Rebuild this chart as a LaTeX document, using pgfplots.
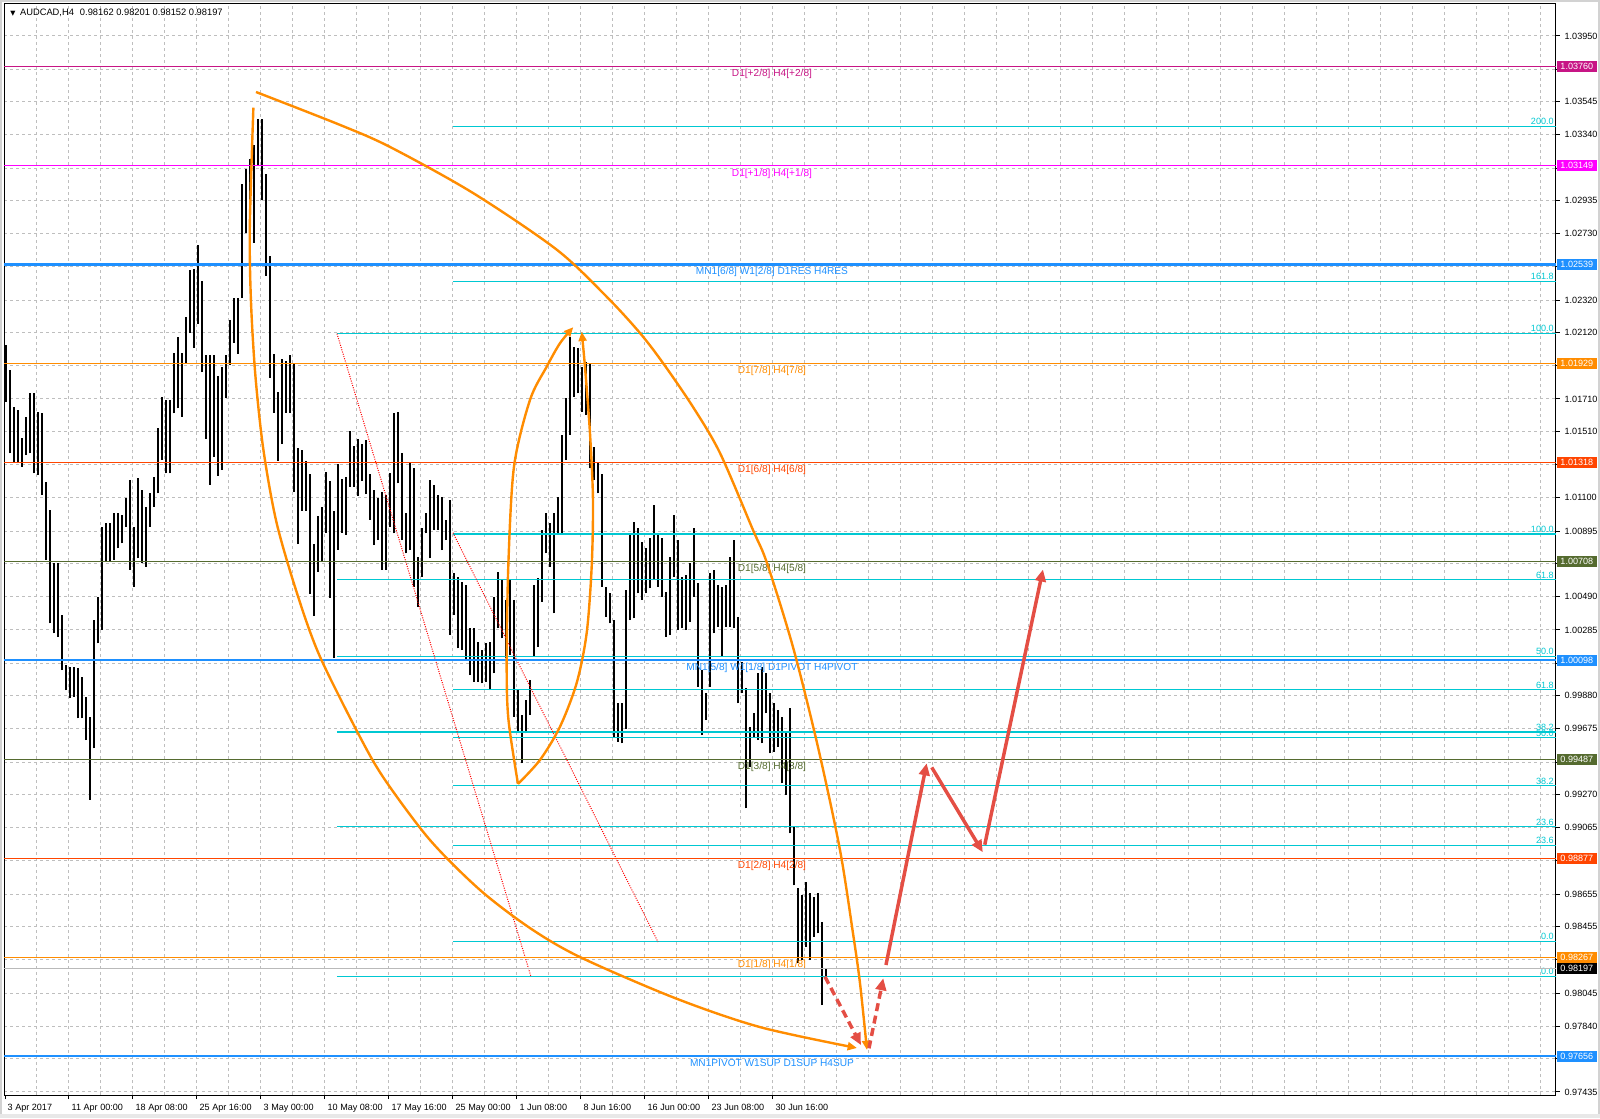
\documentclass[border=0pt]{standalone}
\usepackage{pgfplots}
\pgfplotsset{compat=1.18}
\usepackage{pgfplotstable}
\usepackage{fontspec}
\setmainfont{Liberation Sans}
\newfontfamily\dejavu{DejaVu Sans}
\usetikzlibrary{arrows.meta}
\pagecolor{white}

\definecolor{mvred}{RGB}{199,21,133}
\definecolor{mag}{RGB}{255,0,255}
\definecolor{dodger}{RGB}{30,144,255}
\definecolor{dorange}{RGB}{255,140,0}
\definecolor{ored}{RGB}{255,69,0}
\definecolor{olive}{RGB}{85,107,47}
\definecolor{fibc}{RGB}{0,200,210}
\definecolor{arrowred}{RGB}{228,78,68}
\definecolor{gridc}{RGB}{190,190,190}

\newcommand{\tickfont}{\fontsize{6.8}{8}\selectfont}
\newcommand{\lvlfont}{\fontsize{7.6}{9}\selectfont}

% H4 bars, two bars merged per row: bar index, low, high
\pgfplotstableread{
b lo hi
0.5 1.01694 1.02043
2.5 1.01375 1.01889
4.5 1.01323 1.01663
6.5 1.01313 1.01642
8.5 1.01293 1.01467
10.5 1.01364 1.01601
12.5 1.01375 1.01745
14.5 1.01251 1.01745
16.5 1.01241 1.01632
18.5 1.01118 1.01622
20.5 1.00717 1.01200
22.5 1.00326 1.01025
24.5 1.00264 1.00696
26.5 1.00243 1.00696
28.5 1.00038 1.00377
30.5 0.99914 1.00069
32.5 0.99863 1.00058
34.5 0.99873 1.00058
36.5 0.99739 1.00048
38.5 0.99739 0.99997
40.5 0.99606 0.99873
42.5 0.99236 0.99750
44.5 0.99554 1.00346
46.5 1.00202 1.00490
48.5 1.00285 1.00922
50.5 1.00706 1.00943
52.5 1.00706 1.00943
54.5 1.00717 1.01005
56.5 1.00789 1.01005
58.5 1.00820 1.00994
60.5 1.00922 1.01097
62.5 1.00655 1.01210
64.5 1.00552 1.00922
66.5 1.00727 1.01221
68.5 1.00696 1.01149
70.5 1.00675 1.01046
72.5 1.00922 1.01128
74.5 1.01046 1.01231
76.5 1.01128 1.01529
78.5 1.01334 1.01724
80.5 1.01251 1.01704
82.5 1.01251 1.01704
84.5 1.01622 1.01992
86.5 1.01652 1.02095
88.5 1.01601 1.01992
90.5 1.01930 1.02218
92.5 1.02116 1.02503
94.5 1.02024 1.02515
96.5 1.02173 1.02663
98.5 1.01876 1.02435
100.5 1.01465 1.01979
102.5 1.01180 1.01979
104.5 1.01351 1.01979
106.5 1.01237 1.01853
108.5 1.01272 1.01910
110.5 1.01716 1.01979
112.5 1.01922 1.02195
114.5 1.02058 1.02332
116.5 1.01990 1.02332
118.5 1.02332 1.03039
120.5 1.02731 1.03131
122.5 1.02629 1.03188
124.5 1.02674 1.03279
126.5 1.03153 1.03438
128.5 1.02937 1.03438
130.5 1.02469 1.03096
132.5 1.01842 1.02595
134.5 1.01625 1.01990
136.5 1.01329 1.01751
138.5 1.01431 1.01956
140.5 1.01625 1.01944
142.5 1.01625 1.01979
144.5 1.01135 1.01933
146.5 1.00815 1.01408
148.5 1.01021 1.01397
150.5 1.01021 1.01329
152.5 1.00507 1.01249
154.5 1.00371 1.00815
156.5 1.00644 1.00987
158.5 1.00713 1.01043
160.5 1.00884 1.01260
162.5 1.00485 1.01203
164.5 1.00112 1.01021
166.5 1.00781 1.01306
168.5 1.00884 1.01214
170.5 1.00872 1.01226
172.5 1.01169 1.01511
174.5 1.01169 1.01420
176.5 1.01112 1.01465
178.5 1.01203 1.01431
180.5 1.01123 1.01454
182.5 1.00964 1.01249
184.5 1.00809 1.01149
186.5 1.00840 1.01097
188.5 1.00655 1.01138
190.5 1.00655 1.01118
192.5 1.00922 1.01251
194.5 1.00881 1.01622
196.5 1.01190 1.01632
198.5 1.00840 1.01375
200.5 1.00758 1.01005
202.5 1.00778 1.01323
204.5 1.00552 1.01282
206.5 1.00429 1.00737
208.5 1.00614 1.00912
210.5 1.00881 1.01005
212.5 1.00727 1.01210
214.5 1.00902 1.01179
216.5 1.00902 1.01118
218.5 1.00778 1.01107
220.5 1.00840 1.00963
222.5 1.00254 1.01087
224.5 1.00377 1.00634
226.5 1.00171 1.00614
228.5 1.00161 1.00583
230.5 1.00099 1.00562
232.5 1.00007 1.00295
234.5 0.99966 1.00295
236.5 0.99966 1.00213
238.5 0.99956 1.00161
240.5 0.99966 1.00202
242.5 0.99914 1.00213
244.5 1.00017 1.00490
246.5 1.00295 1.00645
248.5 1.00233 1.00593
250.5 1.00110 1.00470
252.5 1.00130 1.00593
254.5 0.99750 1.00470
256.5 0.99657 0.99914
258.5 0.99462 0.99760
260.5 0.99647 0.99853
262.5 0.99760 0.99976
264.5 1.00120 1.00562
266.5 1.00182 1.00603
268.5 1.00459 1.00902
270.5 1.00758 1.01005
272.5 1.00675 1.00943
274.5 1.00387 1.01005
276.5 1.00881 1.01107
278.5 1.00881 1.01488
280.5 1.01334 1.01714
282.5 1.01488 1.02095
284.5 1.01725 1.02033
286.5 1.01745 1.02023
288.5 1.01632 1.01910
290.5 1.01611 1.01940
292.5 1.01282 1.01930
294.5 1.01210 1.01416
296.5 1.01128 1.01313
298.5 1.00552 1.01250
300.5 1.00367 1.00552
302.5 1.00326 1.00511
304.5 0.99626 1.00346
306.5 0.99595 0.99832
308.5 0.99585 0.99832
310.5 0.99677 1.00531
312.5 1.00346 1.00881
314.5 1.00356 1.00953
316.5 1.00511 1.00912
318.5 1.00470 1.00829
320.5 1.00511 1.00788
322.5 1.00541 1.00850
324.5 1.00593 1.01056
326.5 1.00552 1.00881
328.5 1.00490 1.00850
330.5 1.00243 1.00521
332.5 1.00253 1.00737
334.5 1.00613 1.00994
336.5 1.00284 1.00840
338.5 1.00295 1.00613
340.5 1.00284 1.00624
342.5 1.00336 1.00696
344.5 1.00490 1.00912
346.5 0.99935 1.00572
348.5 0.99636 1.00038
350.5 0.99729 0.99894
352.5 0.99935 1.00634
354.5 1.00264 1.00655
356.5 1.00305 1.00562
358.5 1.00120 1.00552
360.5 1.00305 1.00562
362.5 1.00305 1.00737
364.5 1.00295 1.00840
366.5 0.99832 1.00367
368.5 0.99894 1.00089
370.5 0.99184 0.99924
372.5 0.99441 0.99688
374.5 0.99626 0.99770
376.5 0.99606 1.00017
378.5 0.99585 1.00058
380.5 0.99770 1.00017
382.5 0.99523 0.99894
384.5 0.99534 0.99832
386.5 0.99564 0.99791
388.5 0.99338 0.99750
390.5 0.99266 0.99647
392.5 0.99030 0.99801
394.5 0.98710 0.99071
396.5 0.98228 0.98690
398.5 0.98248 0.98649
400.5 0.98330 0.98732
402.5 0.98248 0.98660
404.5 0.98392 0.98639
406.5 0.98413 0.98660
408.5 0.97970 0.98485
410.5 0.98152 0.98201
}\bars

% horizontal level: [width]{price}{colour}{label}
\newcommand{\lvl}[4][0.75pt]{%
  \addplot[#3, line width=#1] coordinates {(-0.5,#2) (775.5,#2)};
  \node[text=#3, font=\lvlfont, anchor=north, inner sep=0pt, yshift=-2pt] at (axis cs:383.5,#2) {#4};
  \node[fill=#3, text=white, font=\tickfont, anchor=west, inner sep=0pt,
        minimum width=30pt, minimum height=8.25pt, xshift=0.5pt] at (axis cs:775.5,#2) {#2};
}
% fibo level: {start}{price}{label}
\newcommand{\fib}[3]{%
  \addplot[fibc, line width=0.9pt] coordinates {(#1,#2) (775.5,#2)};
  \node[text=fibc, font=\tickfont, anchor=south east, inner sep=0pt, xshift=-1.5pt, yshift=1pt] at (axis cs:775.5,#2) {#3};
}

\begin{document}
\begin{tikzpicture}
\begin{axis}[
    set layers,
    at={(3pt,17.25pt)}, anchor=south west,
    scale only axis, width=1164pt, height=818.25pt,
    xmin=-0.5, xmax=775.5, ymin=0.97416, ymax=1.04147,
    clip=false,
    axis line style={black, line width=0.75pt},
    tick align=outside, major tick length=3pt, minor tick length=0pt,
    tick style={black, line width=0.75pt},
    xtick pos=left, ytick pos=right, yticklabel pos=right,
    xtick={0,32,...,384},
    xticklabels={3 Apr 2017, 11 Apr 00:00, 18 Apr 08:00, 25 Apr 16:00, 3 May 00:00, 10 May 08:00, 17 May 16:00, 25 May 00:00, 1 Jun 08:00, 8 Jun 16:00, 16 Jun 00:00, 23 Jun 08:00, 30 Jun 16:00},
    xticklabel style={font=\tickfont, anchor=north west, xshift=-1.5pt},
    minor xtick={16,32,...,768},
    xminorgrids, ymajorgrids,
    minor grid style={gridc, line width=0.75pt, dash pattern=on 2.25pt off 2.25pt},
    major grid style={gridc, line width=0.75pt, dash pattern=on 2.25pt off 2.25pt},
    ytick={0.97435,0.97640,0.97840,0.98045,0.98250,0.98455,0.98655,0.98860,0.99065,0.99270,0.99470,0.99675,0.99880,1.00080,1.00285,1.00490,1.00695,1.00895,1.01100,1.01305,1.01510,1.01710,1.01915,1.02120,1.02320,1.02525,1.02730,1.02935,1.03135,1.03340,1.03545,1.03745,1.03950},
    yticklabels={0.97435,,0.97840,0.98045,,0.98455,0.98655,,0.99065,0.99270,,0.99675,0.99880,,1.00285,1.00490,,1.00895,1.01100,,1.01510,1.01710,,1.02120,1.02320,,1.02730,1.02935,,1.03340,1.03545,,1.03950},
    yticklabel style={font=\tickfont},
]
% price bars
\addplot[draw=none, mark=none,
  error bars/.cd, y dir=plus, y explicit, error mark=none,
  error bar style={draw=black, solid, line width=1.35pt}]
  table[x=b, y=lo, y error expr=\thisrow{hi}-\thisrow{lo}] {\bars};

% fibonacci sets
\fib{166}{1.02116}{100.0}
\fib{166}{1.00594}{61.8}
\fib{166}{1.00123}{50.0}
\fib{166}{0.99655}{38.2}
\fib{166}{0.99071}{23.6}
\fib{166}{0.98146}{0.0}
\fib{224}{1.03392}{200.0}
\fib{224}{1.02435}{161.8}
\fib{224}{1.00877}{100.0}
\fib{224}{0.99916}{61.8}
\fib{224}{0.99620}{50.0}
\fib{224}{0.99323}{38.2}
\fib{224}{0.98956}{23.6}
\fib{224}{0.98362}{0.0}
\addplot[red, densely dotted, line width=0.75pt] coordinates {(166,1.02113) (263,0.98146)};
\addplot[red, densely dotted, line width=0.75pt] coordinates {(224,1.00885) (326.5,0.98360)};

% murrey / pivot levels
\lvl{1.03760}{mvred}{D1[+2/8] H4[+2/8]}
\lvl{1.03149}{mag}{D1[+1/8] H4[+1/8]}
\lvl[1.8pt]{1.02539}{dodger}{MN1[6/8] W1[2/8] D1RES H4RES}
\lvl{1.01929}{dorange}{D1[7/8] H4[7/8]}
\lvl{1.01318}{ored}{D1[6/8] H4[6/8]}
\lvl{1.00708}{olive}{D1[5/8] H4[5/8]}
\lvl[1.8pt]{1.00098}{dodger}{MN1[5/8] W1[1/8] D1PIVOT H4PIVOT}
\lvl{0.99487}{olive}{D1[3/8] H4[3/8]}
\lvl{0.98877}{ored}{D1[2/8] H4[2/8]}
\lvl{0.98267}{dorange}{D1[1/8] H4[1/8]}
\lvl[1.8pt]{0.97656}{dodger}{MN1PIVOT W1SUP D1SUP H4SUP}
\addplot[gray!55, line width=0.75pt] coordinates {(-0.5,0.98197) (775.5,0.98197)};
\node[fill=black, text=white, font=\tickfont, anchor=west, inner sep=0pt,
      minimum width=30pt, minimum height=8.25pt, xshift=0.5pt] at (axis cs:775.5,0.98197) {0.98197};

% orange arcs
\addplot[dorange, line width=1.8pt, smooth, -{Triangle[length=7pt,width=6pt]}] coordinates {
  (125.5,1.03604) (167.5,1.03401) (192.5,1.03265) (234,1.02981) (276,1.02630)
  (301,1.02339) (317.5,1.02117) (329,1.01932) (344,1.01661) (357.5,1.01377)
  (374,1.00902) (381,1.00698) (394,1.00180) (406.5,0.99563) (417.5,0.98928)
  (424,0.98415) (427.5,0.98107) (431,0.97694)};
\addplot[dorange, line width=1.8pt, smooth, -{Triangle[length=7pt,width=6pt]}] coordinates {
  (124.2,1.03507) (122.4,1.02766) (123,1.02310) (125.2,1.01854) (129.2,1.01397)
  (135.9,1.00941) (146.7,1.00485) (157.5,1.00120) (177.5,0.99625) (190,0.99360)
  (212.5,0.98989) (237.5,0.98681) (262.5,0.98446) (287.5,0.98267) (335,0.98014)
  (377.5,0.97835) (426,0.97706)};
\addplot[dorange, line width=1.8pt, smooth, -{Triangle[length=7pt,width=6pt]}] coordinates {
  (256.5,0.99335) (251.75,0.99730) (250.85,1.00059) (251.65,1.00675) (254.5,1.01292)
  (262.5,1.01704) (270.85,1.01909) (277.5,1.02054) (284.15,1.02153)};
\addplot[dorange, line width=1.8pt, smooth, -{Triangle[length=7pt,width=6pt]}] coordinates {
  (256.5,0.99335) (267.5,0.99483) (277.5,0.99688) (285.85,0.99958) (290.85,1.00266)
  (293.35,1.00675) (294,1.01087) (292.5,1.01500) (290,1.01909) (288.35,1.02125)};

% forecast arrows
\addplot[arrowred, line width=2.6pt, dash pattern=on 6pt off 3.5pt, -{Triangle[length=9pt,width=8pt]}]
  coordinates {(410,0.98146) (428,0.97724)};
\addplot[arrowred, line width=2.6pt, dash pattern=on 6pt off 3.5pt, -{Triangle[length=9pt,width=8pt]}]
  coordinates {(432,0.97704) (439.15,0.98136)};
\addplot[arrowred, line width=2.6pt, -{Triangle[length=9pt,width=8pt]}]
  coordinates {(440.5,0.98218) (460.85,0.99462)};
\addplot[arrowred, line width=2.6pt, -{Triangle[length=9pt,width=8pt]}]
  coordinates {(463.4,0.99437) (488.9,0.98914)};
\addplot[arrowred, line width=2.6pt, -{Triangle[length=9pt,width=8pt]}]
  coordinates {(489.9,0.98960) (519,1.00658)};

% chart title
\node[anchor=west, inner sep=0pt, font=\fontsize{7}{8}\selectfont, xshift=4.5pt, yshift=-6.9pt]
  at (rel axis cs:0,1) {{\dejavu\fontsize{5}{6}\selectfont ▼}\hspace{3.5pt}AUDCAD,H4\hspace{4.5pt}0.98162 0.98201 0.98152 0.98197};
\end{axis}
\draw[gray!35, line width=1.5pt] (0.75pt,0.75pt) rectangle (1199.25pt,837.75pt);
\fill[gray!18] (0,0) rectangle (1200pt,3pt);
\pgfresetboundingbox
\path[use as bounding box] (0,0) rectangle (1200pt,838.5pt);
\end{tikzpicture}
\end{document}
